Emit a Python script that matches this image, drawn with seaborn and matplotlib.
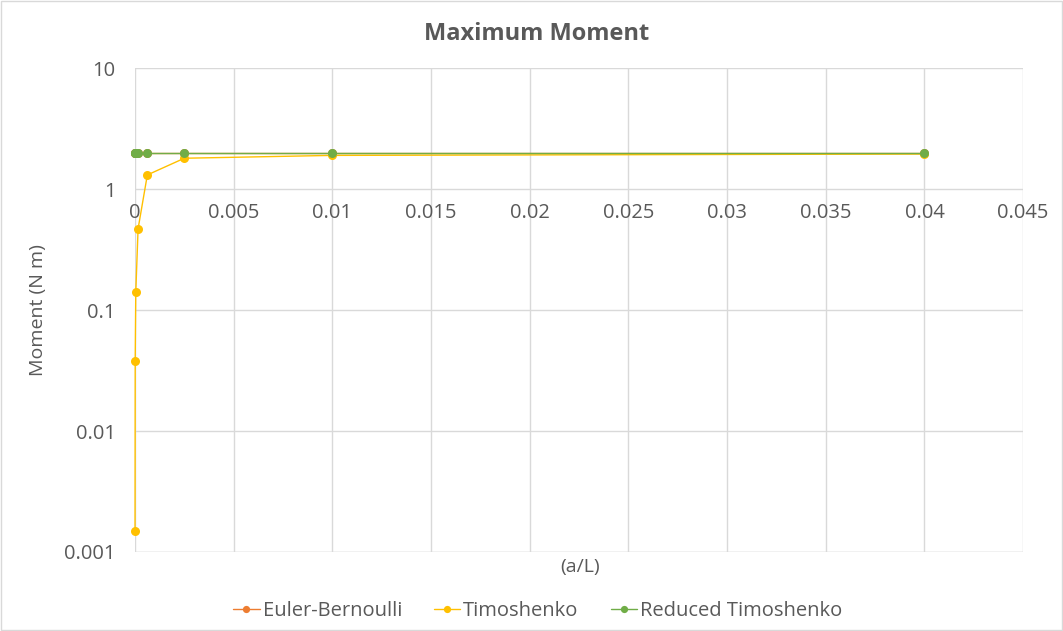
import pandas as pd
import matplotlib.pyplot as plt
from matplotlib.ticker import FixedLocator, FuncFormatter
import seaborn as sns

# Ratio a/L for each run
a_over_L = [0.04, 0.01, 0.0025, 0.000625, 0.00015625, 3.90625e-5, 9.765625e-6, 6.1e-7]

# Maximum moment (N m)
euler = [2.0, 2.0, 2.0, 2.0, 2.0, 2.0, 2.0, 2.0]
timoshenko = [1.95, 1.9, 1.8, 1.31, 0.47, 0.14, 0.038, 0.0015]
reduced = [2.0, 2.0, 2.0, 2.0, 2.0, 2.0, 2.0, 2.0]

series = ['Euler-Bernoulli', 'Timoshenko', 'Reduced Timoshenko']
colors = ['#ED7D31', '#FFC000', '#70AD47']

df = pd.concat([
    pd.DataFrame({'x': a_over_L, 'y': vals, 'Series': name})
    for name, vals in zip(series, [euler, timoshenko, reduced])
])

sns.set_style('white')
plt.rcParams['font.family'] = ['Open Sans', 'DejaVu Sans']

fig = plt.figure(figsize=(10.63, 6.31), dpi=100)
ax = fig.add_axes([0.127, 0.1252, 0.8355, 0.7668])

sns.lineplot(data=df, x='x', y='y', hue='Series', hue_order=series,
             palette=colors, marker='o', markersize=6.5, markeredgewidth=0,
             linewidth=1.0, sort=True, estimator=None, ax=ax, legend=True)
for line in ax.lines:
    line.set_clip_on(False)

ax.set_yscale('log')
ax.set_ylim(0.001, 10)
ax.set_xlim(0, 0.045)
ax.xaxis.set_major_locator(FixedLocator([i * 0.005 for i in range(10)]))
ax.xaxis.set_major_formatter(FuncFormatter(lambda v, p: f'{v:g}'))
ax.yaxis.set_major_locator(FixedLocator([0.001, 0.01, 0.1, 1, 10]))
ax.yaxis.set_major_formatter(FuncFormatter(lambda v, p: f'{v:g}'))
ax.yaxis.set_minor_locator(FixedLocator([]))

ax.grid(True, color='#D9D9D9', linewidth=1)
for s in ['top', 'right', 'left']:
    ax.spines[s].set_visible(False)
ax.spines['bottom'].set_position(('data', 1))
ax.spines['bottom'].set_visible(False)
ax.tick_params(axis='both', length=0, labelsize=14.5, colors='#595959')
ax.tick_params(axis='y', pad=14)
ax.tick_params(axis='x', pad=10)
# keep the bottom gridline as frame edge
ax.axhline(0.001, color='#D9D9D9', linewidth=1, zorder=0)

fig.text(0.505, 0.946, 'Maximum Moment', fontsize=17, fontweight='bold',
         color='#595959', ha='center', va='center')
ax.set_ylabel('Moment (N m)', fontsize=14, color='#595959', labelpad=12)
ax.set_xlabel('')
fig.text(0.546, 0.101, '(a/L)', fontsize=14, color='#595959', ha='center', va='center')

handles, labels = ax.get_legend_handles_labels()
ax.legend(handles, labels, loc='center', bbox_to_anchor=(0.506, 0.032),
          bbox_transform=fig.transFigure, ncol=3, frameon=False,
          fontsize=14.5, labelcolor='#595959', handlelength=1.3,
          handletextpad=0.15, columnspacing=1.6, markerscale=0.8)

fig.patches.append(plt.Rectangle((0.001, 0.001), 0.998, 0.998, transform=fig.transFigure,
                                 fill=False, edgecolor='#D9D9D9', linewidth=1))

fig.savefig('out.png', dpi=100)
